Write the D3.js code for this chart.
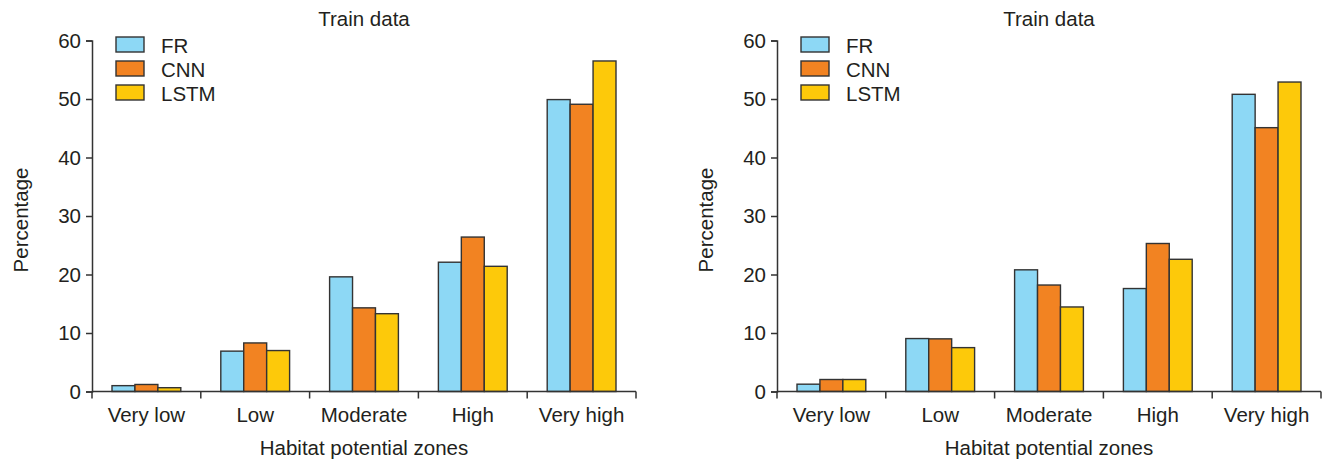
<!DOCTYPE html>
<html>
<head>
<meta charset="utf-8">
<script src="https://cdn.jsdelivr.net/npm/d3@7"></script>
<style>
  body { margin: 0; background: #fff; }
  svg { font-family: "Liberation Sans", Arial, sans-serif; }
</style>
</head>
<body>
<svg id="chart"></svg>
<script>
const zones = ["Very low", "Low", "Moderate", "High", "Very high"];
const models = ["FR", "CNN", "LSTM"];
const colors = ["#8dd8f5", "#f28322", "#fdc90a"];
const yTicks = [0, 10, 20, 30, 40, 50, 60];

// left panel
const leftFR = [1.0, 6.9, 19.6, 22.1, 49.9];
const leftCNN = [1.2, 8.3, 14.3, 26.4, 49.1];
const leftLSTM = [0.65, 7.0, 13.3, 21.4, 56.5];

// right panel
const rightFR = [1.25, 9.05, 20.8, 17.6, 50.8];
const rightCNN = [2.05, 9.0, 18.2, 25.3, 45.1];
const rightLSTM = [2.05, 7.5, 14.45, 22.6, 52.9];

const width = 1326;
const height = 460;
const ink = "#231f20";
const fs = "20.5px";

const svg = d3.select("#chart").attr("width", width).attr("height", height);

function drawPanel(x0, x1, series) {
  const g = svg.append("g");

  const x = d3.scaleBand().domain(zones).range([x0, x1]);
  const inner = d3.scaleBand().domain(models).range([20, x.bandwidth() - 20]);
  const y = d3.scaleLinear().domain([0, 60]).range([391.5, 40.5]);

  // bars
  models.forEach((m, i) => {
    g.append("g")
      .selectAll("rect")
      .data(series[i])
      .join("rect")
      .attr("x", (d, j) => x(zones[j]) + inner(m))
      .attr("y", d => y(d))
      .attr("width", inner.bandwidth())
      .attr("height", d => y(0) - y(d))
      .attr("fill", colors[i])
      .attr("stroke", "#333")
      .attr("stroke-width", 1.4);
  });

  // y axis
  const yAxis = g.append("g")
    .attr("transform", `translate(${x0},0)`)
    .call(d3.axisLeft(y).tickValues(yTicks).tickSize(6).tickPadding(5));
  yAxis.selectAll("text").style("font-size", fs).attr("fill", ink);

  // x axis: ticks at zone boundaries
  const xAxis = g.append("g").attr("transform", `translate(0,${y(0)})`);
  xAxis.append("line")
    .attr("x1", x0).attr("x2", x1)
    .attr("stroke", "#333").attr("stroke-width", 1.5);
  const bounds = zones.map(z => x(z)).concat([x1]);
  xAxis.selectAll(".bt")
    .data(bounds)
    .join("line")
    .attr("class", "bt")
    .attr("x1", d => d).attr("x2", d => d)
    .attr("y1", 0).attr("y2", 7)
    .attr("stroke", "#333").attr("stroke-width", 1.5);
  xAxis.selectAll("text")
    .data(zones)
    .join("text")
    .attr("x", d => x(d) + x.bandwidth() / 2)
    .attr("y", 30)
    .attr("text-anchor", "middle")
    .style("font-size", fs)
    .attr("fill", ink)
    .text(d => d);

  g.selectAll(".domain, .tick line").attr("stroke", "#333").attr("stroke-width", 1.5);

  const cx = (x0 + x1) / 2;

  // title
  g.append("text")
    .attr("x", cx).attr("y", 26)
    .attr("text-anchor", "middle")
    .style("font-size", fs)
    .attr("fill", ink)
    .text("Train data");

  // x label
  g.append("text")
    .attr("x", cx).attr("y", 455)
    .attr("text-anchor", "middle")
    .style("font-size", fs)
    .attr("fill", ink)
    .text("Habitat potential zones");

  // y label
  g.append("text")
    .attr("transform", `translate(${x0 - 64},${220}) rotate(-90)`)
    .attr("text-anchor", "middle")
    .style("font-size", fs)
    .attr("fill", ink)
    .text("Percentage");

  // legend
  const legend = g.append("g").attr("transform", `translate(${x0 + 24},37)`);
  models.forEach((m, i) => {
    const row = legend.append("g").attr("transform", `translate(0,${i * 24})`);
    row.append("rect")
      .attr("width", 28).attr("height", 15)
      .attr("fill", colors[i])
      .attr("stroke", "#333").attr("stroke-width", 1.4);
    row.append("text")
      .attr("x", 45).attr("y", 16)
      .style("font-size", fs)
      .attr("fill", ink)
      .text(m);
  });
}

drawPanel(92, 636, [leftFR, leftCNN, leftLSTM]);
drawPanel(777, 1321, [rightFR, rightCNN, rightLSTM]);
</script>
</body>
</html>
